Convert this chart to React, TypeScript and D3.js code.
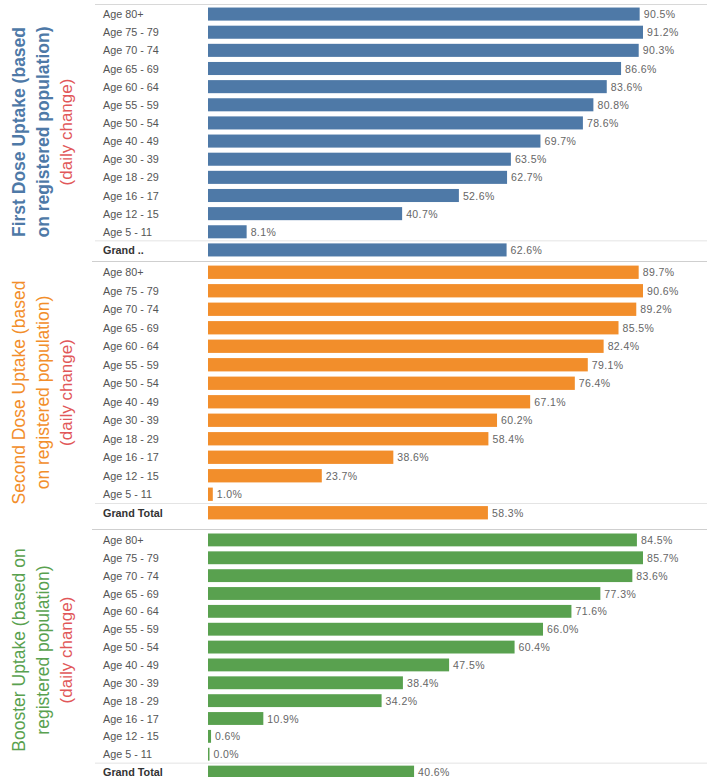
import React from 'react'
import * as d3 from 'd3'

// row categories (top to bottom)
const ageGroups = [
  'Age 80+', 'Age 75 - 79', 'Age 70 - 74', 'Age 65 - 69', 'Age 60 - 64',
  'Age 55 - 59', 'Age 50 - 54', 'Age 40 - 49', 'Age 30 - 39', 'Age 18 - 29',
  'Age 16 - 17', 'Age 12 - 15', 'Age 5 - 11', 'Grand Total'
]

// uptake %, same order as ageGroups
const firstDose = [90.5, 91.2, 90.3, 86.6, 83.6, 80.8, 78.6, 69.7, 63.5, 62.7, 52.6, 40.7, 8.1, 62.6]
const secondDose = [89.7, 90.6, 89.2, 85.5, 82.4, 79.1, 76.4, 67.1, 60.2, 58.4, 38.6, 23.7, 1.0, 58.3]
const booster = [84.5, 85.7, 83.6, 77.3, 71.6, 66.0, 60.4, 47.5, 38.4, 34.2, 10.9, 0.6, 0.0, 40.6]

const titles = [
  ['First Dose Uptake (based', 'on registered population)', '(daily change)'],
  ['Second Dose Uptake (based', 'on registered population)', '(daily change)'],
  ['Booster Uptake (based on', 'registered population)', '(daily change)']
]

const W = 707
const H = 777
const FONT = '"Liberation Sans", Arial, sans-serif'

const panels = [
  { values: firstDose, color: '#4e79a7', top: 5, bottom: 259, grandLabel: 'Grand ..', bold: true },
  { values: secondDose, color: '#f28e2b', top: 263, bottom: 522, grandLabel: 'Grand Total', bold: false },
  { values: booster, color: '#59a14f', top: 531, bottom: 781, grandLabel: 'Grand Total', bold: false }
]

const Panel = ({ p, i }) => {
  const x = d3.scaleLinear().domain([0, d3.max(p.values)]).range([208, 643])
  const y = d3.scaleBand().domain(ageGroups).range([p.top, p.bottom]).paddingInner(0.28).paddingOuter(0.14)
  const mid = (p.top + p.bottom) / 2
  const grandY = y('Grand Total') - y.step() * y.paddingInner() / 2
  const t = titles[i]
  const titleX = [19, 43, 66]
  return (
    <g>
      {t.map((s, k) => (
        <text key={k}
          transform={`translate(${titleX[k]},${i === 2 ? mid - 6 : mid}) rotate(-90)`}
          textAnchor='middle' dominantBaseline='central'
          fontSize={k < 2 ? 17.5 : 17}
          fontWeight={k < 2 && p.bold ? 'bold' : 'normal'}
          fill={k < 2 ? p.color : '#e15759'}>{s}</text>
      ))}
      <line x1={95} x2={W} y1={grandY} y2={grandY} stroke='#e4e4e4' />
      {ageGroups.map((g, k) => {
        const v = p.values[k]
        const yy = y(g)
        const isGrand = g === 'Grand Total'
        return (
          <g key={g}>
            <text x={103} y={yy + y.bandwidth() / 2} dominantBaseline='central'
              fontSize={10.8} fill={isGrand ? '#333' : '#555'} fontWeight={isGrand ? 'bold' : 'normal'}>
              {isGrand ? p.grandLabel : g}
            </text>
            <rect x={x(0)} y={yy} width={Math.max(x(v) - x(0), 1.5)} height={y.bandwidth()} fill={p.color} />
            <text x={Math.max(x(v), x(0) + 1.5) + 4} y={yy + y.bandwidth() / 2} dominantBaseline='central'
              fontSize={10.5} letterSpacing={0.4} fill='#666'>{v.toFixed(1) + '%'}</text>
          </g>
        )
      })}
    </g>
  )
}

export default function App () {
  return (
    <svg width={W} height={H} style={{ position: 'absolute', left: 0, top: 0, fontFamily: FONT, background: '#fff' }}>
      <rect width={W} height={H} fill='#fff' />
      <line x1={95} x2={W} y1={4.5} y2={4.5} stroke='#d8d8d8' />
      <line x1={92} x2={W} y1={261.5} y2={261.5} stroke='#cfcfcf' />
      <line x1={92} x2={W} y1={529.5} y2={529.5} stroke='#cfcfcf' />
      {panels.map((p, i) => <Panel key={i} p={p} i={i} />)}
    </svg>
  )
}
